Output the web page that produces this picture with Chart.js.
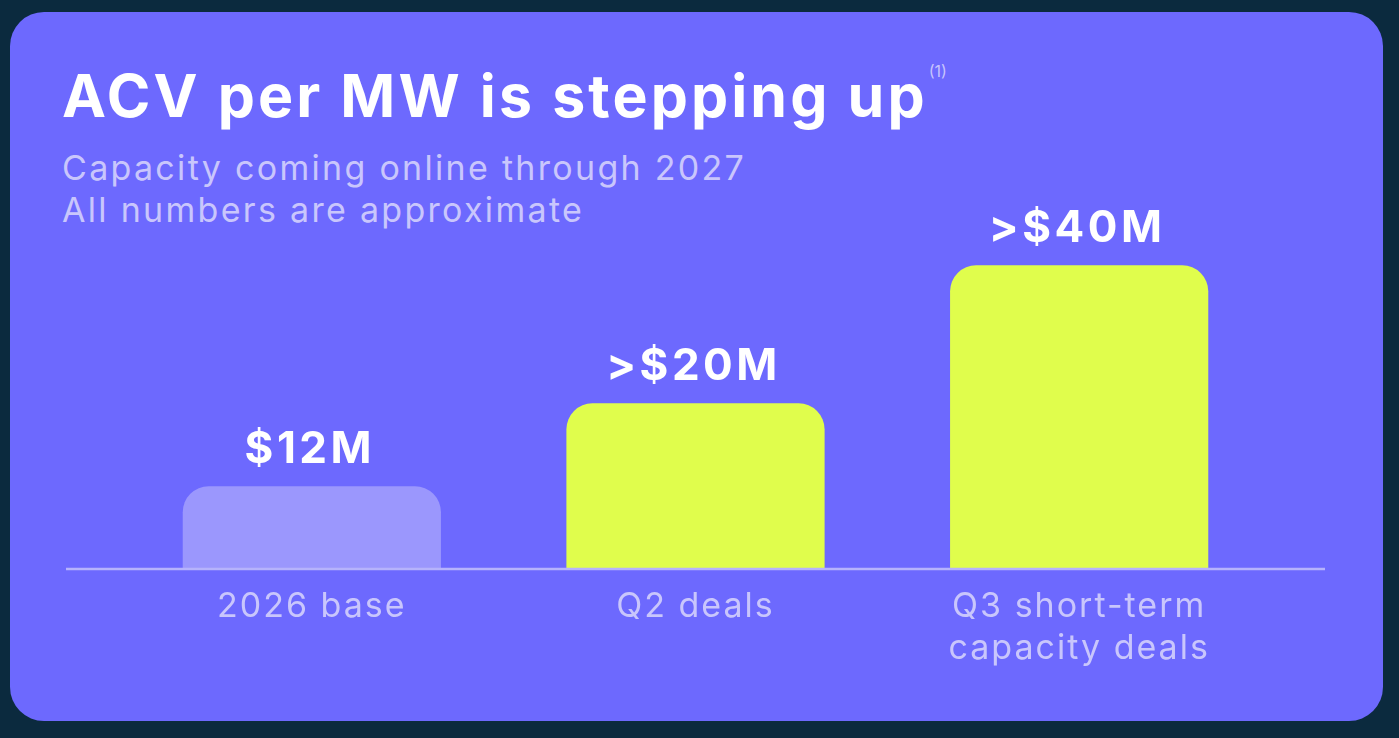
<!DOCTYPE html>
<html>
<head>
<meta charset="utf-8">
<script src="https://cdn.jsdelivr.net/npm/chart.js@4.4.1/dist/chart.umd.min.js"></script>
<style>
  html, body { margin: 0; padding: 0; background: #0b2a3e; width: 1399px; height: 738px; overflow: hidden; font-family: Inter, "Noto Sans", sans-serif; }
  .card { position: absolute; left: 10px; top: 12px; width: 1373px; height: 709px; background: #6d69fe; border-radius: 34px; }
  .title { position: absolute; left: 62px; top: 66px; margin: 0; color: #ffffff; font-size: 59px; font-weight: 700; letter-spacing: 3.1px; line-height: 1; white-space: nowrap; }
  .title sup { font-size: 16px; font-weight: 400; color: #c7c4fc; position: relative; top: -19px; margin-left: 1px; letter-spacing: 0; }
  .sub { position: absolute; left: 62px; top: 147px; margin: 0; color: #c9c6fc; font-size: 34px; line-height: 42px; letter-spacing: 2.3px; white-space: nowrap; }
  #wrap { position: absolute; left: 0; top: 0; width: 1399px; height: 738px; }
</style>
</head>
<body>
<div class="card"></div>
<h1 class="title">ACV per MW is stepping up<sup>(1)</sup></h1>
<p class="sub">Capacity coming online through 2027<br>All numbers are approximate</p>
<div id="wrap"><canvas id="acvChart"></canvas></div>
<script>
// chart data
const categories = ['2026 base', 'Q2 deals', ['Q3 short-term', 'capacity deals']];
const acvValues = [12, 24, 44];
const valueLabels = ['$12M', '>$20M', '>$40M'];
const barColors = ['#9b97fd', '#e0fd4c', '#e0fd4c'];

const ctx = document.getElementById('acvChart').getContext('2d');

// wider tracking for the tick labels, like the original
const spacing = {
    id: 'spacing',
    beforeDraw(chart) { chart.ctx.letterSpacing = '2px'; }
};

// value labels above bars + baseline across the card
const overlay = {
    id: 'overlay',
    afterDatasetsDraw(chart) {
        const c = chart.ctx;
        const yZero = chart.scales.y.getPixelForValue(0);
        c.save();
        c.strokeStyle = '#b6b3fc';
        c.lineWidth = 2.5;
        c.beginPath();
        c.moveTo(66, yZero);
        c.lineTo(1325, yZero);
        c.stroke();

        c.fillStyle = '#ffffff';
        c.font = '700 44px Inter, "Noto Sans", sans-serif';
        c.letterSpacing = '3.5px';
        c.textAlign = 'center';
        c.textBaseline = 'alphabetic';
        chart.getDatasetMeta(0).data.forEach((bar, i) => {
            c.fillText(valueLabels[i], bar.x - 2, bar.y - 23);
        });
        c.restore();
    }
};

new Chart(ctx, {
    type: 'bar',
    data: {
        labels: categories,
        datasets: [{
            data: acvValues,
            backgroundColor: barColors,
            borderRadius: 26,
            borderSkipped: 'start',
            barPercentage: 0.673,
            categoryPercentage: 1
        }]
    },
    options: {
        responsive: true,
        maintainAspectRatio: false,
        animation: false,
        layout: {
            padding: { top: 226, bottom: 51, left: 120, right: 128 }
        },
        plugins: {
            legend: { display: false },
            tooltip: { enabled: false }
        },
        scales: {
            x: {
                grid: { display: false, drawTicks: false },
                border: { display: false },
                ticks: {
                    color: '#c9c6fc',
                    padding: 17,
                    font: { family: 'Inter, "Noto Sans", sans-serif', size: 34, lineHeight: '42px' }
                }
            },
            y: {
                display: false,
                min: 0,
                max: 49.7
            }
        }
    },
    plugins: [spacing, overlay]
});
</script>
</body>
</html>
